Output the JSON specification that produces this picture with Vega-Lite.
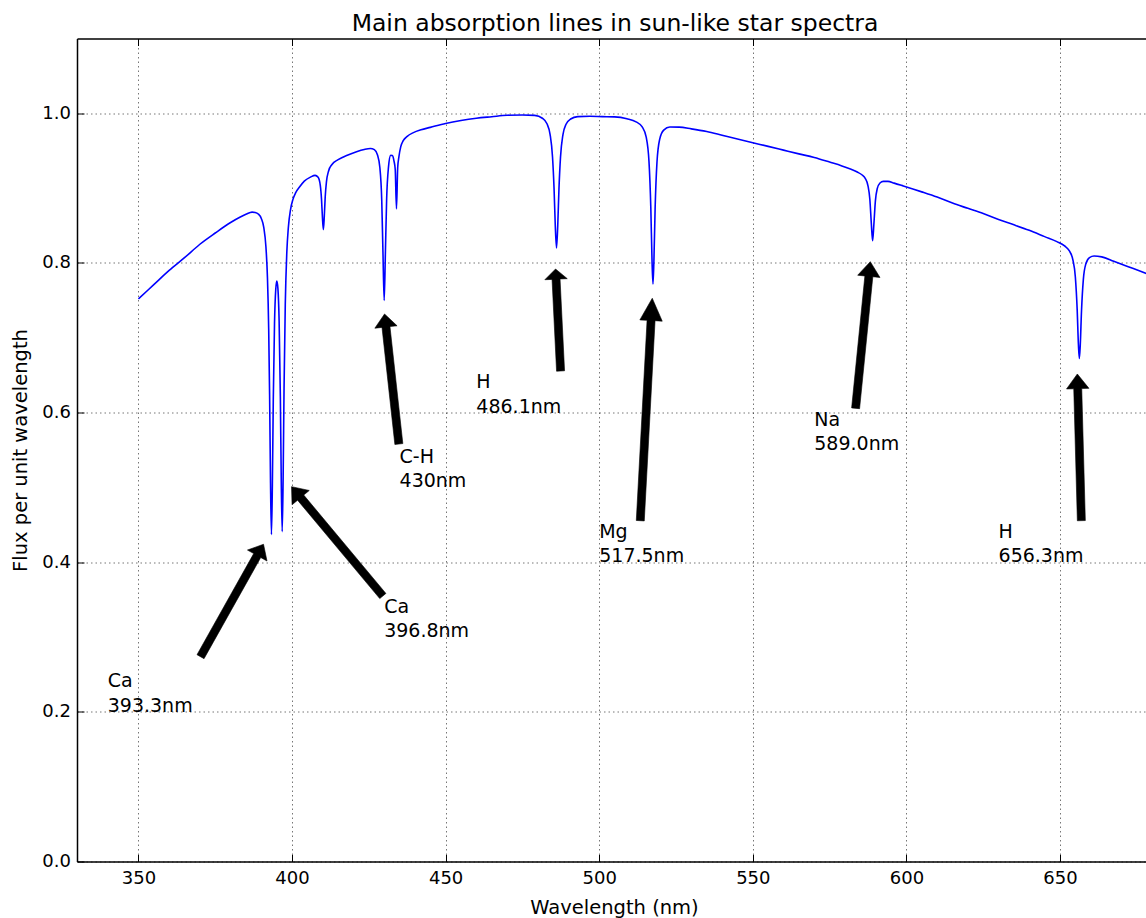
{
  "$schema": "https://vega.github.io/schema/vega-lite/v6.json",
  "width": 1069,
  "height": 823,
  "autosize": {"type": "none"},
  "padding": {"left": 77, "top": 38.5, "right": 0, "bottom": 56.5},
  "title": {"text": "Main absorption lines in sun-like star spectra", "font": "DejaVu Sans", "fontSize": 23.5, "fontWeight": "normal", "color": "#000", "anchor": "middle", "frame": "group", "offset": 5, "baseline": "alphabetic", "dx": 3.5, "dy": 21},
  "datasets": {
    "spectrum": [
      {"wavelength": 350, "flux": 0.752}, {"wavelength": 355, "flux": 0.771}, {"wavelength": 360, "flux": 0.790}, {"wavelength": 365, "flux": 0.807},
      {"wavelength": 370, "flux": 0.825}, {"wavelength": 375, "flux": 0.840}, {"wavelength": 380, "flux": 0.854}, {"wavelength": 383, "flux": 0.861},
      {"wavelength": 385, "flux": 0.865}, {"wavelength": 387, "flux": 0.868}, {"wavelength": 388, "flux": 0.8675}, {"wavelength": 389, "flux": 0.8655},
      {"wavelength": 390, "flux": 0.8594}, {"wavelength": 390.8, "flux": 0.8475}, {"wavelength": 391.5, "flux": 0.8216}, {"wavelength": 392.0, "flux": 0.7801},
      {"wavelength": 392.4, "flux": 0.7125}, {"wavelength": 392.7, "flux": 0.6243}, {"wavelength": 393.0, "flux": 0.5058}, {"wavelength": 393.3, "flux": 0.4370},
      {"wavelength": 393.6, "flux": 0.5033}, {"wavelength": 393.9, "flux": 0.6177}, {"wavelength": 394.3, "flux": 0.7193}, {"wavelength": 394.7, "flux": 0.7645},
      {"wavelength": 395.05, "flux": 0.7758}, {"wavelength": 395.4, "flux": 0.766}, {"wavelength": 395.8, "flux": 0.7221}, {"wavelength": 396.2, "flux": 0.6214},
      {"wavelength": 396.5, "flux": 0.5071}, {"wavelength": 396.8, "flux": 0.4409}, {"wavelength": 397.1, "flux": 0.5111}, {"wavelength": 397.4, "flux": 0.6318},
      {"wavelength": 397.8, "flux": 0.7442}, {"wavelength": 398.3, "flux": 0.8140}, {"wavelength": 398.8, "flux": 0.8473}, {"wavelength": 399.5, "flux": 0.8711},
      {"wavelength": 400.3, "flux": 0.8850}, {"wavelength": 401.2, "flux": 0.8939}, {"wavelength": 402.5, "flux": 0.9018}, {"wavelength": 404, "flux": 0.9094},
      {"wavelength": 406, "flux": 0.9147}, {"wavelength": 407.5, "flux": 0.9171}, {"wavelength": 408.5, "flux": 0.9145}, {"wavelength": 409.2, "flux": 0.9037},
      {"wavelength": 409.6, "flux": 0.885}, {"wavelength": 409.9, "flux": 0.8607}, {"wavelength": 410.2, "flux": 0.8446}, {"wavelength": 410.5, "flux": 0.862},
      {"wavelength": 410.8, "flux": 0.8881}, {"wavelength": 411.2, "flux": 0.9084}, {"wavelength": 411.9, "flux": 0.9229}, {"wavelength": 413, "flux": 0.9316},
      {"wavelength": 415, "flux": 0.938}, {"wavelength": 418, "flux": 0.944}, {"wavelength": 421, "flux": 0.9487}, {"wavelength": 423.5, "flux": 0.9517},
      {"wavelength": 425.5, "flux": 0.9530}, {"wavelength": 426.8, "flux": 0.9514}, {"wavelength": 427.8, "flux": 0.9446}, {"wavelength": 428.6, "flux": 0.9272},
      {"wavelength": 429.2, "flux": 0.8845}, {"wavelength": 429.6, "flux": 0.8146}, {"wavelength": 430.0, "flux": 0.7498}, {"wavelength": 430.4, "flux": 0.8150},
      {"wavelength": 430.8, "flux": 0.8852}, {"wavelength": 431.4, "flux": 0.928}, {"wavelength": 432.1, "flux": 0.9438}, {"wavelength": 432.7, "flux": 0.9437},
      {"wavelength": 433.2, "flux": 0.9362}, {"wavelength": 433.6, "flux": 0.9249}, {"wavelength": 434.0, "flux": 0.8723}, {"wavelength": 434.4, "flux": 0.9276},
      {"wavelength": 434.8, "flux": 0.9420}, {"wavelength": 435.4, "flux": 0.9555}, {"wavelength": 436.2, "flux": 0.9634}, {"wavelength": 437.5, "flux": 0.9693},
      {"wavelength": 439.5, "flux": 0.9742}, {"wavelength": 442, "flux": 0.978}, {"wavelength": 445, "flux": 0.9812}, {"wavelength": 450, "flux": 0.9865},
      {"wavelength": 455, "flux": 0.9905}, {"wavelength": 460, "flux": 0.9935}, {"wavelength": 465, "flux": 0.9955}, {"wavelength": 470, "flux": 0.9974},
      {"wavelength": 475, "flux": 0.9978}, {"wavelength": 479, "flux": 0.9972}, {"wavelength": 481.5, "flux": 0.9934}, {"wavelength": 483, "flux": 0.986},
      {"wavelength": 484, "flux": 0.972}, {"wavelength": 484.8, "flux": 0.9417}, {"wavelength": 485.3, "flux": 0.8994}, {"wavelength": 485.7, "flux": 0.8497},
      {"wavelength": 486.1, "flux": 0.82}, {"wavelength": 486.5, "flux": 0.8497}, {"wavelength": 486.9, "flux": 0.8994}, {"wavelength": 487.4, "flux": 0.9415},
      {"wavelength": 488.2, "flux": 0.9716}, {"wavelength": 489.2, "flux": 0.9854}, {"wavelength": 490.7, "flux": 0.9924}, {"wavelength": 493, "flux": 0.9956},
      {"wavelength": 497, "flux": 0.9961}, {"wavelength": 501, "flux": 0.9956}, {"wavelength": 505, "flux": 0.9952}, {"wavelength": 509, "flux": 0.9927},
      {"wavelength": 512, "flux": 0.9886}, {"wavelength": 514, "flux": 0.9818}, {"wavelength": 515.3, "flux": 0.9681}, {"wavelength": 516.2, "flux": 0.9358},
      {"wavelength": 516.8, "flux": 0.8735}, {"wavelength": 517.2, "flux": 0.8020}, {"wavelength": 517.5, "flux": 0.7718}, {"wavelength": 517.8, "flux": 0.8017},
      {"wavelength": 518.2, "flux": 0.8728}, {"wavelength": 518.8, "flux": 0.9343}, {"wavelength": 519.7, "flux": 0.9656}, {"wavelength": 521, "flux": 0.9776},
      {"wavelength": 523, "flux": 0.9817}, {"wavelength": 526, "flux": 0.9815}, {"wavelength": 530, "flux": 0.9792}, {"wavelength": 535, "flux": 0.9756},
      {"wavelength": 540, "flux": 0.9707}, {"wavelength": 545, "flux": 0.9657}, {"wavelength": 550, "flux": 0.9607}, {"wavelength": 555, "flux": 0.9558},
      {"wavelength": 560, "flux": 0.9508}, {"wavelength": 565, "flux": 0.9458}, {"wavelength": 570, "flux": 0.9409}, {"wavelength": 575, "flux": 0.9348},
      {"wavelength": 579, "flux": 0.9297}, {"wavelength": 582, "flux": 0.9251}, {"wavelength": 584, "flux": 0.9215}, {"wavelength": 585.5, "flux": 0.9179},
      {"wavelength": 586.6, "flux": 0.9130}, {"wavelength": 587.5, "flux": 0.9031}, {"wavelength": 588.1, "flux": 0.8851}, {"wavelength": 588.6, "flux": 0.8516},
      {"wavelength": 589.0, "flux": 0.8297}, {"wavelength": 589.4, "flux": 0.8507}, {"wavelength": 589.9, "flux": 0.8827}, {"wavelength": 590.5, "flux": 0.8992},
      {"wavelength": 591.4, "flux": 0.9069}, {"wavelength": 592.5, "flux": 0.9091}, {"wavelength": 594, "flux": 0.9090}, {"wavelength": 596, "flux": 0.9067},
      {"wavelength": 599, "flux": 0.9029}, {"wavelength": 605, "flux": 0.895}, {"wavelength": 610, "flux": 0.888}, {"wavelength": 615, "flux": 0.880},
      {"wavelength": 620, "flux": 0.873}, {"wavelength": 625, "flux": 0.866}, {"wavelength": 630, "flux": 0.858}, {"wavelength": 635, "flux": 0.851},
      {"wavelength": 640, "flux": 0.8436}, {"wavelength": 645, "flux": 0.8352}, {"wavelength": 649, "flux": 0.8285}, {"wavelength": 651.5, "flux": 0.8227},
      {"wavelength": 653, "flux": 0.8164}, {"wavelength": 654.2, "flux": 0.8041}, {"wavelength": 655.0, "flux": 0.7812}, {"wavelength": 655.6, "flux": 0.7373},
      {"wavelength": 656.0, "flux": 0.6909}, {"wavelength": 656.3, "flux": 0.6724}, {"wavelength": 656.6, "flux": 0.6903}, {"wavelength": 657.0, "flux": 0.7355},
      {"wavelength": 657.6, "flux": 0.7778}, {"wavelength": 658.4, "flux": 0.7985}, {"wavelength": 659.6, "flux": 0.8072}, {"wavelength": 661.1, "flux": 0.8093},
      {"wavelength": 663.6, "flux": 0.8081}, {"wavelength": 667.5, "flux": 0.8023}, {"wavelength": 672, "flux": 0.7954}, {"wavelength": 676, "flux": 0.7891},
      {"wavelength": 680, "flux": 0.783}
    ],
    "labels": [
      {"element": "Ca", "line": "393.3nm", "tx": 340, "ty": 0.2},
      {"element": "Ca", "line": "396.8nm", "tx": 430, "ty": 0.3},
      {"element": "C-H", "line": "430nm", "tx": 435, "ty": 0.5},
      {"element": "H", "line": "486.1nm", "tx": 460, "ty": 0.6},
      {"element": "Mg", "line": "517.5nm", "tx": 500, "ty": 0.4},
      {"element": "Na", "line": "589.0nm", "tx": 570, "ty": 0.55},
      {"element": "H", "line": "656.3nm", "tx": 630, "ty": 0.4}
    ],
    "arrows": [
      {"arrow": "Ca393", "k": 1, "wavelength": 371.35, "flux": 0.2711}, {"arrow": "Ca393", "k": 2, "wavelength": 389.81, "flux": 0.4063},
      {"arrow": "Ca393", "k": 3, "wavelength": 391.85, "flux": 0.4016}, {"arrow": "Ca393", "k": 4, "wavelength": 390.72, "flux": 0.4240},
      {"arrow": "Ca393", "k": 5, "wavelength": 385.49, "flux": 0.4163}, {"arrow": "Ca393", "k": 6, "wavelength": 387.53, "flux": 0.4116},
      {"arrow": "Ca393", "k": 7, "wavelength": 369.07, "flux": 0.2764},
      {"arrow": "Ca396", "k": 1, "wavelength": 430.56, "flux": 0.3583}, {"arrow": "Ca396", "k": 2, "wavelength": 403.81, "flux": 0.4898},
      {"arrow": "Ca396", "k": 3, "wavelength": 405.61, "flux": 0.4959}, {"arrow": "Ca396", "k": 4, "wavelength": 399.84, "flux": 0.5010},
      {"arrow": "Ca396", "k": 5, "wavelength": 400.01, "flux": 0.4768}, {"arrow": "Ca396", "k": 6, "wavelength": 401.81, "flux": 0.4829},
      {"arrow": "Ca396", "k": 7, "wavelength": 428.56, "flux": 0.3514},
      {"arrow": "CH430", "k": 1, "wavelength": 436.07, "flux": 0.5586}, {"arrow": "CH430", "k": 2, "wavelength": 431.88, "flux": 0.7150},
      {"arrow": "CH430", "k": 3, "wavelength": 434.20, "flux": 0.7160}, {"arrow": "CH430", "k": 4, "wavelength": 430.12, "flux": 0.7318},
      {"arrow": "CH430", "k": 5, "wavelength": 426.96, "flux": 0.7128}, {"arrow": "CH430", "k": 6, "wavelength": 429.29, "flux": 0.7138},
      {"arrow": "CH430", "k": 7, "wavelength": 433.48, "flux": 0.5574},
      {"arrow": "H486", "k": 1, "wavelength": 488.72, "flux": 0.6559}, {"arrow": "H486", "k": 2, "wavelength": 487.25, "flux": 0.7786},
      {"arrow": "H486", "k": 3, "wavelength": 489.60, "flux": 0.7790}, {"arrow": "H486", "k": 4, "wavelength": 485.79, "flux": 0.7919},
      {"arrow": "H486", "k": 5, "wavelength": 482.31, "flux": 0.7776}, {"arrow": "H486", "k": 6, "wavelength": 484.65, "flux": 0.7780},
      {"arrow": "H486", "k": 7, "wavelength": 486.12, "flux": 0.6553},
      {"arrow": "Mg517", "k": 1, "wavelength": 514.67, "flux": 0.4552}, {"arrow": "Mg517", "k": 2, "wavelength": 518.18, "flux": 0.7228},
      {"arrow": "Mg517", "k": 3, "wavelength": 520.52, "flux": 0.7222}, {"arrow": "Mg517", "k": 4, "wavelength": 517.27, "flux": 0.7528},
      {"arrow": "Mg517", "k": 5, "wavelength": 513.24, "flux": 0.7239}, {"arrow": "Mg517", "k": 6, "wavelength": 515.58, "flux": 0.7233},
      {"arrow": "Mg517", "k": 7, "wavelength": 512.07, "flux": 0.4558},
      {"arrow": "Na589", "k": 1, "wavelength": 584.76, "flux": 0.6052}, {"arrow": "Na589", "k": 2, "wavelength": 589.07, "flux": 0.7816},
      {"arrow": "Na589", "k": 3, "wavelength": 591.40, "flux": 0.7806}, {"arrow": "Na589", "k": 4, "wavelength": 588.25, "flux": 0.8017},
      {"arrow": "Na589", "k": 5, "wavelength": 584.14, "flux": 0.7836}, {"arrow": "Na589", "k": 6, "wavelength": 586.48, "flux": 0.7826},
      {"arrow": "Na589", "k": 7, "wavelength": 582.17, "flux": 0.6063},
      {"arrow": "H656", "k": 1, "wavelength": 658.25, "flux": 0.4557}, {"arrow": "H656", "k": 2, "wavelength": 657.08, "flux": 0.6321},
      {"arrow": "H656", "k": 3, "wavelength": 659.42, "flux": 0.6324}, {"arrow": "H656", "k": 4, "wavelength": 655.65, "flux": 0.6516},
      {"arrow": "H656", "k": 5, "wavelength": 652.13, "flux": 0.6316}, {"arrow": "H656", "k": 6, "wavelength": 654.48, "flux": 0.6318},
      {"arrow": "H656", "k": 7, "wavelength": 655.65, "flux": 0.4554}
    ]
  },
  "layer": [
    {
      "data": {"name": "spectrum"},
      "mark": {"type": "line", "color": "#0000ff", "strokeWidth": 1.6, "interpolate": "monotone", "clip": true},
      "encoding": {
        "x": {"field": "wavelength", "type": "quantitative", "scale": {"domain": [330, 678], "nice": false, "zero": false},
              "axis": {"orient": "bottom", "values": [350, 400, 450, 500, 550, 600, 650], "format": "d", "grid": true, "labelPadding": 15, "labelFlush": false, "labelOverlap": false,
                       "title": "Wavelength (nm)", "titleX": 537, "titleY": 51.5, "titleAlign": "center", "titleBaseline": "alphabetic", "titleAnchor": null}},
        "y": {"field": "flux", "type": "quantitative", "scale": {"domain": [0, 1.1], "nice": false, "zero": false},
              "axis": {"orient": "left", "values": [0, 0.2, 0.4, 0.6, 0.8, 1.0], "format": ".1f", "grid": true, "labelPadding": 13.5, "labelFlush": false, "labelOverlap": false,
                       "title": "Flux per unit wavelength", "titleX": -51, "titleY": 411.5, "titleAngle": -90, "titleAlign": "center", "titleBaseline": "alphabetic"}}
      }
    },
    {
      "data": {"name": "arrows"},
      "mark": {"type": "line", "interpolate": "linear-closed", "fill": "#000", "stroke": "#000", "strokeWidth": 0.6},
      "encoding": {
        "x": {"field": "wavelength", "type": "quantitative", "scale": {"domain": [330, 678], "nice": false, "zero": false}, "axis": null},
        "y": {"field": "flux", "type": "quantitative", "scale": {"domain": [0, 1.1], "nice": false, "zero": false}, "title": "Flux per unit wavelength"},
        "detail": {"field": "arrow", "type": "nominal"},
        "order": {"field": "k", "type": "quantitative"}
      }
    },
    {
      "data": {"name": "labels"},
      "mark": {"type": "text", "font": "DejaVu Sans", "fontSize": 19, "color": "#000", "align": "left", "baseline": "alphabetic", "dy": -24.5},
      "encoding": {
        "x": {"field": "tx", "type": "quantitative", "scale": {"domain": [330, 678], "nice": false, "zero": false},
              "axis": {"orient": "top", "values": [350, 400, 450, 500, 550, 600, 650], "labels": false, "grid": false, "title": null, "domain": true, "ticks": true}},
        "y": {"field": "ty", "type": "quantitative", "scale": {"domain": [0, 1.1], "nice": false, "zero": false}, "title": "Flux per unit wavelength"},
        "text": {"field": "element", "type": "nominal"}
      }
    },
    {
      "data": {"name": "labels"},
      "mark": {"type": "text", "font": "DejaVu Sans", "fontSize": 19, "color": "#000", "align": "left", "baseline": "alphabetic"},
      "encoding": {
        "x": {"field": "tx", "type": "quantitative", "scale": {"domain": [330, 678], "nice": false, "zero": false}, "axis": null},
        "y": {"field": "ty", "type": "quantitative", "scale": {"domain": [0, 1.1], "nice": false, "zero": false}, "title": "Flux per unit wavelength"},
        "text": {"field": "line", "type": "nominal"}
      }
    }
  ],
  "resolve": {"axis": {"x": "independent"}},
  "config": {
    "font": "DejaVu Sans",
    "view": {"stroke": null},
    "axis": {
      "labelFont": "DejaVu Sans", "labelFontSize": 18, "labelColor": "#000",
      "titleFont": "DejaVu Sans", "titleFontSize": 19.5, "titleFontWeight": "normal", "titleColor": "#000",
      "domainColor": "#000", "domainWidth": 1.5,
      "tickColor": "#000", "tickWidth": 1, "tickSize": -7,
      "gridColor": "#000", "gridOpacity": 0.6, "gridDash": [1.5, 3], "gridWidth": 0.9
    }
  }
}
